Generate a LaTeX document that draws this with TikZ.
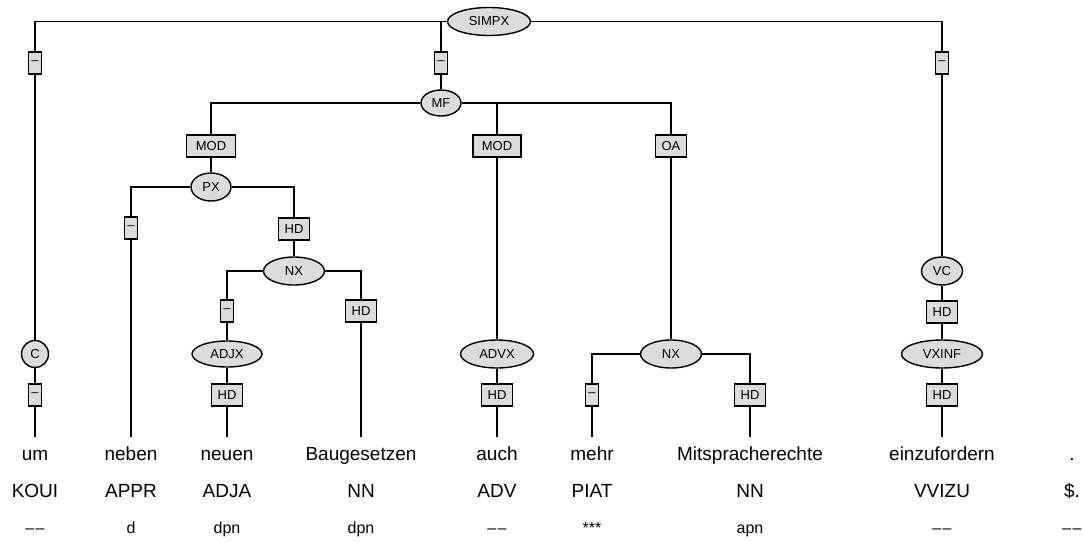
\documentclass[tikz,border=0pt]{standalone}
\usepackage{fontspec}
\setmainfont{Liberation Sans}
\usetikzlibrary{shapes.geometric}
\definecolor{nodefill}{RGB}{220,220,220}
\newcommand{\nomorph}{\textendash\kern1.5pt\textendash}
\tikzset{
  edge/.style={draw=black, line width=1.4pt},
  cat/.style={ellipse, draw=black, line width=1.4pt, fill=nodefill, inner sep=0pt, minimum height=28pt, font=\fontsize{13}{15}\selectfont},
  lab/.style={rectangle, draw=black, line width=1.4pt, fill=nodefill, inner sep=0pt, minimum height=22pt, font=\fontsize{13}{15}\selectfont},
  dashlab/.style={lab, minimum width=13pt},
  hdlab/.style={lab, minimum width=31pt},
  word/.style={inner sep=0pt, anchor=base, text height=14pt, text depth=4pt, outer ysep=9pt, font=\fontsize{19}{22}\selectfont},
  postag/.style={inner sep=0pt, anchor=base, font=\fontsize{19}{22}\selectfont},
  morph/.style={inner sep=0pt, anchor=base, font=\fontsize{16}{18}\selectfont},
}
\begin{document}
\begin{tikzpicture}[x=1pt, y=-1pt]
\useasboundingbox (0,0) rectangle (1084,543);

% nodes
\node[cat, minimum width=83pt] (SIMPX) at (489,21.5) {SIMPX};
\node[dashlab] (d1) at (35,63) {–};
\node[cat, minimum width=27pt, minimum height=27pt] (C) at (35,354) {C};
\node[dashlab] (d2) at (35,395) {–};

\node[dashlab] (dMF) at (441,63) {–};
\node[cat, minimum width=40pt, minimum height=26pt] (MF) at (441,103) {MF};

\node[lab, minimum width=49pt] (mod1) at (211,146) {MOD};
\node[cat, minimum width=40pt] (PX) at (211,187) {PX};
\node[dashlab] (dP) at (131,228) {–};
\node[hdlab] (hdPX) at (294,229) {HD};
\node[cat, minimum width=61pt] (NX1) at (294,271) {NX};
\node[dashlab] (dNX) at (227,311) {–};
\node[cat, minimum width=70pt, minimum height=26pt] (ADJX) at (227,354) {ADJX};
\node[hdlab] (hdADJ) at (227,395) {HD};
\node[hdlab] (hdNX) at (361,311) {HD};

\node[lab, minimum width=48pt] (mod2) at (497,146) {MOD};
\node[cat, minimum width=73pt] (ADVX) at (497,354) {ADVX};
\node[hdlab] (hdADV) at (497,395) {HD};

\node[lab, minimum width=31pt] (oa) at (671,146) {OA};
\node[cat, minimum width=61pt] (NX2) at (671,354) {NX};
\node[dashlab] (dNX2) at (592,395) {–};
\node[hdlab] (hdNX2) at (750,395) {HD};

\node[dashlab] (d3) at (942,63) {–};
\node[cat, minimum width=41pt] (VC) at (942,271) {VC};
\node[hdlab] (hdVC) at (942,312) {HD};
\node[cat, minimum width=81pt] (VXINF) at (942,354) {VXINF};
\node[hdlab] (hdVX) at (942,395) {HD};

% words
\node[word] (w1) at (35,460) {um};
\node[word] (w2) at (131,460) {neben};
\node[word] (w3) at (227,460) {neuen};
\node[word] (w4) at (361,460) {Baugesetzen};
\node[word] (w5) at (497,460) {auch};
\node[word] (w6) at (592,460) {mehr};
\node[word] (w7) at (750,460) {Mitspracherechte};
\node[word] (w8) at (942,460) {einzufordern};
\node[word] (w9) at (1072,460) {.};

% POS tags
\node[postag] (p1) at (35,497) {KOUI};
\node[postag] (p2) at (131,497) {APPR};
\node[postag] (p3) at (227,497) {ADJA};
\node[postag] (p4) at (361,497) {NN};
\node[postag] (p5) at (497,497) {ADV};
\node[postag] (p6) at (592,497) {PIAT};
\node[postag] (p7) at (750,497) {NN};
\node[postag] (p8) at (942,497) {VVIZU};
\node[postag] (p9) at (1072,497) {\$.};

% morphology
\node[morph] (m1) at (35,533) {\nomorph};
\node[morph] (m2) at (131,533) {d};
\node[morph] (m3) at (227,533) {dpn};
\node[morph] (m4) at (361,533) {dpn};
\node[morph] (m5) at (497,533) {\nomorph};
\node[morph] (m6) at (592,533) {***};
\node[morph] (m7) at (750,533) {apn};
\node[morph] (m8) at (942,533) {\nomorph};
\node[morph] (m9) at (1072,533) {\nomorph};

% edges
\draw[edge] (SIMPX) -| (d1);
\draw[edge] (d1) -- (C);
\draw[edge] (C) -- (d2);
\draw[edge] (d2) -- (w1);
\draw[edge] (SIMPX) -| (dMF);
\draw[edge] (dMF) -- (MF);
\draw[edge] (SIMPX) -| (d3);
\draw[edge] (d3) -- (VC);
\draw[edge] (VC) -- (hdVC);
\draw[edge] (hdVC) -- (VXINF);
\draw[edge] (VXINF) -- (hdVX);
\draw[edge] (hdVX) -- (w8);

\draw[edge] (MF) -| (mod1);
\draw[edge] (mod1) -- (PX);
\draw[edge] (PX) -| (dP);
\draw[edge] (dP) -- (w2);
\draw[edge] (PX) -| (hdPX);
\draw[edge] (hdPX) -- (NX1);
\draw[edge] (NX1) -| (dNX);
\draw[edge] (dNX) -- (ADJX);
\draw[edge] (ADJX) -- (hdADJ);
\draw[edge] (hdADJ) -- (w3);
\draw[edge] (NX1) -| (hdNX);
\draw[edge] (hdNX) -- (w4);

\draw[edge] (MF) -| (mod2);
\draw[edge] (mod2) -- (ADVX);
\draw[edge] (ADVX) -- (hdADV);
\draw[edge] (hdADV) -- (w5);

\draw[edge] (MF) -| (oa);
\draw[edge] (oa) -- (NX2);
\draw[edge] (NX2) -| (dNX2);
\draw[edge] (dNX2) -- (w6);
\draw[edge] (NX2) -| (hdNX2);
\draw[edge] (hdNX2) -- (w7);
\end{tikzpicture}
\end{document}
